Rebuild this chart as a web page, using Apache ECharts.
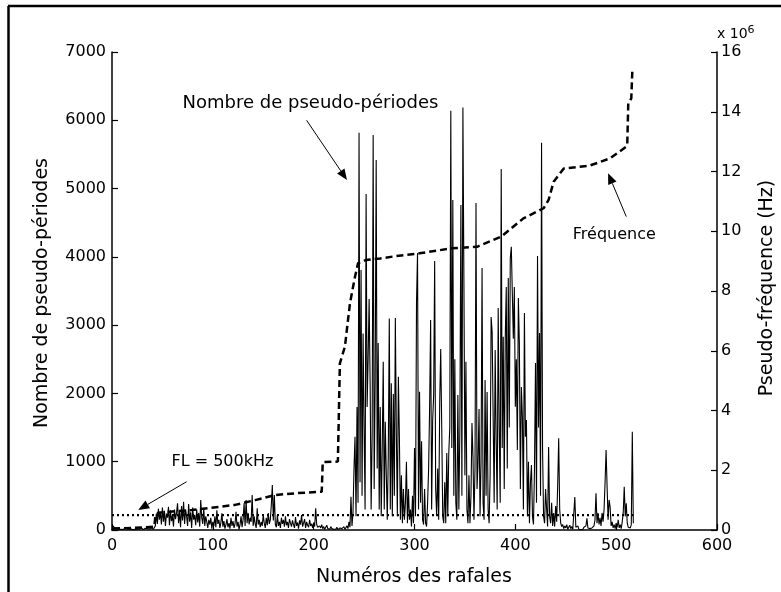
<!DOCTYPE html>
<html>
<head>
<meta charset="utf-8">
<script src="https://cdn.jsdelivr.net/npm/echarts@6/dist/echarts.min.js"></script>
<style>
    html, body { margin: 0; padding: 0; background: #fff; }
    #chart { width: 781px; height: 592px; }
</style>
</head>
<body>
<div id="chart"></div>
<script>
// nombre de pseudo-périodes par rafale (rafales 1..517)
var periodes = [
    60, 40, 20, 10, 30, 15, 5, 20, 10, 25, 5, 15, 30, 10, 20, 5, 10, 25, 15, 10,
    5, 20, 10, 30, 15, 5, 10, 20, 35, 10, 5, 15, 25, 10, 20, 5, 15, 10, 30, 20,
    10, 25, 60, 240, 90, 310, 150, 260, 80, 330, 120, 280, 60, 240, 180, 340, 70, 290, 130, 210,
    50, 300, 160, 250, 390, 100, 270, 40, 350, 140, 415, 90, 300, 200, 60, 380, 120, 260, 30, 330,
    150, 220, 70, 300, 110, 250, 50, 440, 180, 90, 317, 60, 200, 120, 30, 150, 80, 180, 20, 120,
    60, 200, 40, 290, 90, 150, 30, 110, 244, 50, 130, 20, 80, 160, 40, 100, 20, 180, 60, 130,
    30, 90, 268, 50, 120, 10, 80, 200, 40, 150, 390, 60, 440, 100, 250, 80, 180, 120, 512, 60,
    200, 90, 30, 317, 80, 150, 40, 120, 60, 220, 100, 30, 180, 70, 250, 90, 150, 366, 659, 140,
    512, 80, 40, 220, 60, 120, 30, 180, 90, 150, 50, 200, 70, 120, 30, 160, 100, 50, 140, 80,
    30, 190, 60, 110, 20, 140, 80, 220, 50, 100, 160, 30, 120, 70, 40, 150, 60, 90, 30, 110,
    50, 317, 80, 40, 20, 60, 30, 80, 20, 50, 10, 40, 70, 20, 30, 10, 50, 20, 30, 10,
    20, 10, 40, 5, 15, 30, 10, 20, 5, 50, 10, 30, 60, 20, 120, 40, 488, 60, 250, 900,
    1366, 200, 1800, 400, 5817, 700, 3806, 500, 2879, 1500, 300, 4919, 1800, 2500, 3382, 2148, 300, 1400, 5783, 600,
    2200, 5417, 900, 2738, 300, 1800, 200, 1200, 2464, 300, 1586, 830, 150, 1100, 3099, 300, 2148, 200, 1991, 500,
    3104, 1415, 200, 2245, 1376, 150, 800, 100, 600, 150, 400, 1000, 100, 600, 150, 300, 50, 500, 100, 1200,
    200, 3338, 4055, 300, 2025, 400, 1300, 150, 80, 600, 100, 50, 400, 900, 1800, 3074, 300, 1600, 1976, 3938,
    600, 200, 900, 150, 1859, 2650, 1508, 200, 100, 700, 100, 1127, 200, 1127, 1500, 6139, 1200, 4832, 500, 2500,
    400, 150, 1976, 300, 1500, 4758, 500, 6188, 3660, 800, 2464, 300, 100, 800, 100, 500, 1566, 1073, 150, 900,
    4787, 600, 980, 1771, 200, 1000, 3836, 400, 150, 2196, 500, 2020, 300, 100, 800, 3118, 2903, 2884, 400, 2635,
    1318, 300, 3250, 1500, 400, 5285, 1200, 2830, 600, 2806, 3557, 900, 3689, 1500, 3982, 4148, 4158, 2800, 3557, 1805,
    2500, 1171, 3396, 2733, 600, 2093, 1659, 300, 3177, 1366, 1610, 200, 1000, 100, 700, 951, 200, 80, 900, 2445,
    400, 4011, 1500, 2884, 500, 5670, 1196, 200, 100, 600, 317, 50, 1215, 200, 100, 400, 60, 250, 50, 350,
    120, 659, 1342, 300, 100, 50, 80, 20, 60, 30, 80, 10, 40, 70, 20, 50, 10, 30, 483, 40,
    20, 60, 10, 30, 5, 20, 10, 40, 15, 60, 171, 30, 10, 20, 5, 30, 10, 60, 150, 537,
    100, 250, 80, 180, 60, 250, 120, 300, 700, 1171, 634, 150, 440, 341, 60, 120, 30, 80, 20, 100,
    40, 150, 30, 80, 20, 120, 250, 634, 200, 390, 100, 40, 60, 30, 80, 1439, 100
];

// pseudo-fréquence (rafale, Hz)
var freqRafales = [1, 20, 42, 43, 46, 79, 95, 122, 142, 162, 182, 208, 209, 224, 225, 226, 231, 236, 241, 244,
    252, 266, 282, 305, 337, 362, 386, 408, 428, 433, 438, 448, 474, 494, 510, 511, 512, 515, 516];
var freqValeurs = [0.05e6, 0.07e6, 0.11e6, 0.47e6, 0.58e6, 0.67e6, 0.73e6, 0.84e6, 1.0e6, 1.17e6, 1.23e6, 1.28e6, 2.27e6, 2.29e6, 2.3e6, 5.58e6, 6.14e6, 7.59e6, 8.48e6, 8.93e6,
    9.04e6, 9.09e6, 9.17e6, 9.26e6, 9.43e6, 9.48e6, 9.82e6, 10.43e6, 10.77e6, 11.05e6, 11.66e6, 12.1e6, 12.2e6, 12.44e6, 12.83e6, 12.9e6, 14.28e6, 14.45e6, 15.34e6];

// seuil FL
var seuilRafales = [0, 517];
var seuilValeurs = [0.5e6, 0.5e6];

// annotations : texte et flèche (coordonnées données, axe gauche)
var annotations = [
    { text: 'Nombre de pseudo-périodes', size: 18, pos: [70, 6250], from: [193, 6000], to: [233, 5125] },
    { text: 'Fréquence', size: 16, pos: [457, 4320], from: [510, 4590], to: [492, 5225] },
    { text: 'FL = 500kHz', size: 16, pos: [59, 1000], from: [74, 707], to: [26, 293] }
];

var FONT = 'DejaVu Sans';

var pairs = function(xs, ys) {
    var out = [];
    for (var i = 0; i < xs.length; i++) {
        out.push([xs[i], ys[i]]);
    }
    return out;
};

var periodeData = [];
for (var i = 0; i < periodes.length; i++) {
    periodeData.push([i + 1, periodes[i]]);
}

// réglages d'axe communs (style matlab, graduations vers l'intérieur)
var makeAxis = function(opt, labelOpt) {
    var label = { color: '#000', fontFamily: FONT, fontSize: 16, formatter: function(v) { return String(v); } };
    for (var k in labelOpt) {
        label[k] = labelOpt[k];
    }
    opt.axisLine = { show: true, lineStyle: { color: '#000', width: 1.5 } };
    opt.axisTick = { show: true, inside: true, length: 6, lineStyle: { color: '#000', width: 1.2 } };
    opt.splitLine = { show: false };
    opt.axisLabel = label;
    return opt;
};

var myChart = echarts.init(document.getElementById('chart'));

var option = {
    animation: false,
    backgroundColor: '#fff',
    grid: { left: 112, right: 64, top: 52, bottom: 62 },
    xAxis: makeAxis({ type: 'value', min: 0, max: 600, interval: 100 }, { margin: 8 }),
    yAxis: [
        makeAxis({ type: 'value', position: 'left', min: 0, max: 7000, interval: 1000 }, { margin: 6 }),
        makeAxis({ type: 'value', position: 'right', min: 0, max: 16e6, interval: 2e6 }, {
            margin: 4,
            formatter: function(v) { return String(v / 1e6); }
        })
    ],
    series: [{
        type: 'line',
        yAxisIndex: 0,
        data: periodeData,
        showSymbol: false,
        lineStyle: { color: '#000', width: 1.1 }
    }, {
        type: 'line',
        yAxisIndex: 1,
        data: pairs(seuilRafales, seuilValeurs),
        showSymbol: false,
        lineStyle: { color: '#000', width: 2.2, type: [2, 3] }
    }, {
        type: 'line',
        yAxisIndex: 1,
        data: pairs(freqRafales, freqValeurs),
        showSymbol: false,
        lineStyle: { color: '#000', width: 2.5, type: [7, 4] }
    }]
};

myChart.setOption(option);

// textes, flèches, titres d'axes et cadre
var graphics = [];

var textEl = function(str, x, y, size, rot, align) {
    return {
        type: 'text',
        x: x,
        y: y,
        rotation: rot || 0,
        style: {
            text: str,
            fill: '#000',
            font: size + 'px "' + FONT + '"',
            align: align || 'center',
            verticalAlign: 'middle'
        }
    };
};

for (var n = 0; n < annotations.length; n++) {
    var an = annotations[n];
    var p = myChart.convertToPixel({ xAxisIndex: 0, yAxisIndex: 0 }, an.pos);
    var f = myChart.convertToPixel({ xAxisIndex: 0, yAxisIndex: 0 }, an.from);
    var t = myChart.convertToPixel({ xAxisIndex: 0, yAxisIndex: 0 }, an.to);
    graphics.push(textEl(an.text, p[0], p[1], an.size, 0, 'left'));
    var ang = Math.atan2(t[1] - f[1], t[0] - f[0]);
    var hl = 11, hw = 4.5;
    var bx = t[0] - hl * Math.cos(ang), by = t[1] - hl * Math.sin(ang);
    graphics.push({
        type: 'line',
        shape: { x1: f[0], y1: f[1], x2: bx, y2: by },
        style: { stroke: '#000', lineWidth: 1 }
    });
    graphics.push({
        type: 'polygon',
        shape: { points: [
            [t[0], t[1]],
            [bx - hw * Math.sin(ang), by + hw * Math.cos(ang)],
            [bx + hw * Math.sin(ang), by - hw * Math.cos(ang)]
        ] },
        style: { fill: '#000' }
    });
}

graphics.push(textEl('Numéros des rafales', 414, 577, 19, 0));
graphics.push(textEl('Nombre de pseudo-périodes', 42, 293, 19, Math.PI / 2));
graphics.push(textEl('Pseudo-fréquence (Hz)', 767, 288, 19, Math.PI / 2));
graphics.push({
    type: 'text',
    x: 717,
    y: 44,
    style: {
        text: 'x 10{sup|6}',
        fill: '#000',
        font: '14px "' + FONT + '"',
        align: 'left',
        verticalAlign: 'bottom',
        rich: { sup: { fontSize: 11, fontFamily: FONT, verticalAlign: 'top', padding: [0, 0, 8, 0] } }
    }
});
graphics.push({ type: 'line', shape: { x1: 8, y1: 6, x2: 781, y2: 6 }, style: { stroke: '#000', lineWidth: 2.5 } });
graphics.push({ type: 'line', shape: { x1: 8.5, y1: 6, x2: 8.5, y2: 592 }, style: { stroke: '#000', lineWidth: 2.5 } });

myChart.setOption({ graphic: graphics });
</script>
</body>
</html>
